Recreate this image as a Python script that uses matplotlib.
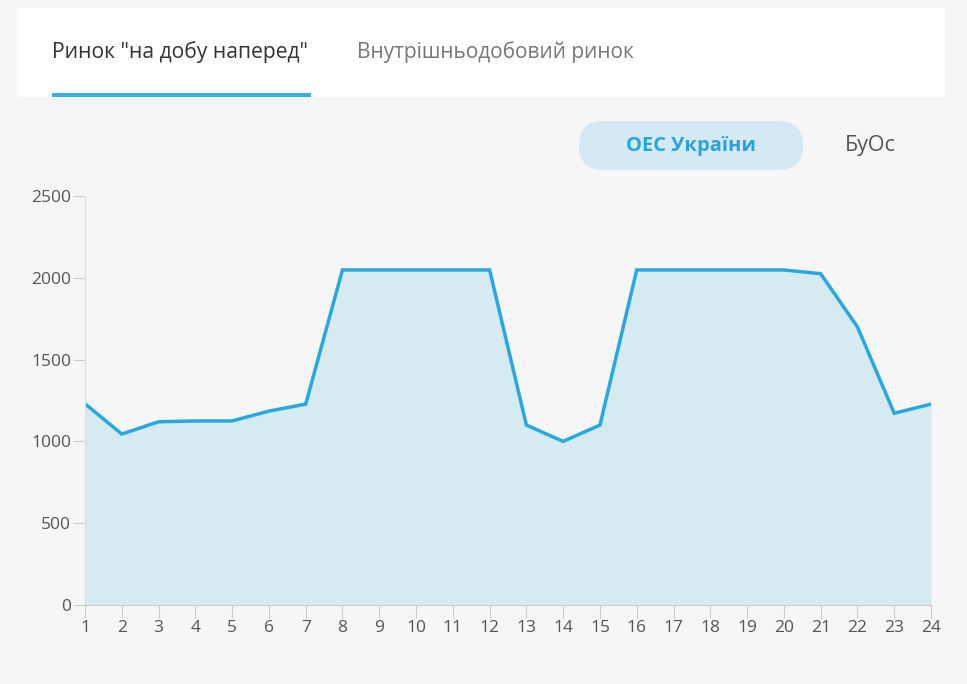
import matplotlib.pyplot as plt
from matplotlib.patches import FancyBboxPatch, Rectangle

# години доби
hours = list(range(1, 25))
# обсяг, МВт·год
volume = [1230, 1045, 1120, 1125, 1125, 1185, 1228, 2048, 2048, 2048, 2048, 2048,
          1100, 1000, 1100, 2048, 2048, 2048, 2048, 2048, 2025, 1700, 1172, 1228]
y_ticks = [0, 500, 1000, 1500, 2000, 2500]

tab_labels = ['Ринок "на добу наперед"', 'Внутрішньодобовий ринок']
btn_labels = ['ОЕС України', 'БуОс']

W, H = 967, 684
plt.rcParams['font.family'] = ['Open Sans', 'DejaVu Sans']
fig = plt.figure(figsize=(W / 100, H / 100), dpi=100)
fig.patch.set_facecolor('#f6f6f6')

# фон у піксельних координатах
bg = fig.add_axes([0, 0, 1, 1])
bg.set_xlim(0, W)
bg.set_ylim(H, 0)
bg.axis('off')

# біла панель з вкладками
bg.add_patch(Rectangle((18, 8), 945 - 18, 97 - 8, facecolor='white', edgecolor='none'))
bg.text(52, 52, tab_labels[0], fontsize=15.2, color='#333333', va='center')
bg.text(357, 52, tab_labels[1], fontsize=15, color='#777777', va='center')
bg.add_patch(Rectangle((52, 93), 311 - 52, 3.5, facecolor='#39aee3', edgecolor='none'))

# кнопки
bg.add_patch(FancyBboxPatch((579, 121), 803 - 579, 170 - 121,
                            boxstyle='round,pad=0,rounding_size=24.5',
                            facecolor='#d4e9f3', edgecolor='none'))
bg.text(691, 146, btn_labels[0], fontsize=14.5, color='#29a3dc',
        fontweight='bold', ha='center', va='center')
bg.text(870, 146, btn_labels[1], fontsize=15.5, color='#555555',
        ha='center', va='center')

# графік
ax = fig.add_axes([85 / W, 1 - 605 / H, (931 - 85) / W, (605 - 196) / H])
ax.set_facecolor('#f6f6f6')
ax.fill_between(hours, volume, 0, color='#d6eaf2', linewidth=0)
ax.plot(hours, volume, color='#29a8e0', linewidth=2.5, solid_joinstyle='miter')
ax.set_xlim(1, 24)
ax.set_ylim(0, 2500)
ax.set_xticks(hours)
ax.set_yticks(y_ticks)
for s in ['top', 'right']:
    ax.spines[s].set_visible(False)
ax.spines['left'].set_color('#dddddd')
ax.spines['bottom'].set_color('#cccccc')
ax.tick_params(axis='both', colors='#cccccc', labelcolor='#555555', labelsize=12.5, length=9)
ax.tick_params(axis='y', pad=1)
ax.tick_params(axis='x', pad=2)

fig.savefig('out.png', dpi=100, facecolor=fig.get_facecolor())
